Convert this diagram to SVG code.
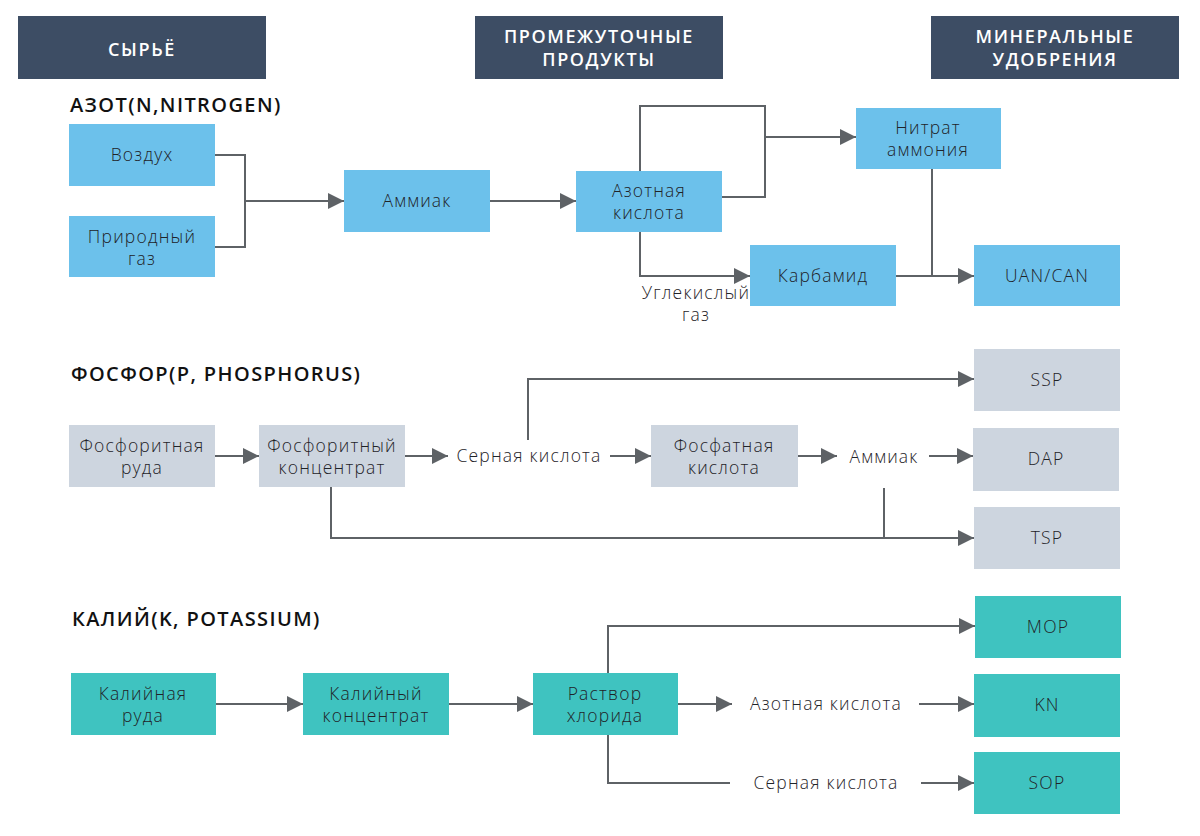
<svg xmlns="http://www.w3.org/2000/svg" width="1200" height="836" viewBox="0 0 1200 836">
<style>
  .hdr { fill: #3d4d64; }
  .hdrt { fill: #ffffff; font-family: "Open Sans", "Liberation Sans", sans-serif; font-size: 18px; font-weight: 600; letter-spacing: 1.6px; text-anchor: middle; }
  .sec { fill: #111111; font-family: "Open Sans", "Liberation Sans", sans-serif; font-size: 20px; font-weight: 600; letter-spacing: 1.4px; }
  .blue { fill: #6cc1eb; }
  .gray { fill: #cdd5df; }
  .teal { fill: #3fc3c0; }
  .t { fill: #1f2328; font-family: "Open Sans", "Liberation Sans", sans-serif; font-size: 17.5px; font-weight: 300; letter-spacing: 1.2px; text-anchor: middle; }
  .c { fill: none; stroke: #5e6266; stroke-width: 2; }
  .a { marker-end: url(#arr); }
</style>
<defs>
  <marker id="arr" markerUnits="userSpaceOnUse" markerWidth="16" markerHeight="16" refX="16" refY="8" orient="auto">
    <path d="M0,0 L16,8 L0,16 z" fill="#5e6266"/>
  </marker>
</defs>
<rect width="1200" height="836" fill="#ffffff"/>

<g id="header-raw"><rect class="hdr" x="18" y="16" width="248" height="63"/><text class="hdrt" x="142" y="56">СЫРЬЁ</text></g>
<g id="header-intermediate"><rect class="hdr" x="475" y="16" width="248" height="63"/><text class="hdrt" x="599" y="43">ПРОМЕЖУТОЧНЫЕ</text><text class="hdrt" x="599" y="66">ПРОДУКТЫ</text></g>
<g id="header-fertilizers"><rect class="hdr" x="931" y="16" width="248" height="63"/><text class="hdrt" x="1055" y="43">МИНЕРАЛЬНЫЕ</text><text class="hdrt" x="1055" y="66">УДОБРЕНИЯ</text></g>

<text class="sec" x="70" y="112">АЗОТ(N,NITROGEN)</text>
<text class="sec" x="71" y="381">ФОСФОР(P, PHOSPHORUS)</text>
<text class="sec" x="72" y="626">КАЛИЙ(K, POTASSIUM)</text>

<g id="connectors">
  <path class="c" d="M215,155 H245 V247 H215"/>
  <path class="c a" d="M245,201 H344"/>
  <path class="c a" d="M490,201 H576"/>
  <path class="c" d="M640,171 V106 H765 V197 H722"/>
  <path class="c a" d="M765,137 H856"/>
  <path class="c a" d="M640,232 V276 H750"/>
  <path class="c" d="M932,169 V276"/>
  <path class="c a" d="M896,276 H974"/>

  <path class="c a" d="M215,456 H259"/>
  <path class="c a" d="M405,456 H448"/>
  <path class="c a" d="M528,440 V379 H974"/>
  <path class="c a" d="M610,456 H651"/>
  <path class="c a" d="M798,456 H837"/>
  <path class="c a" d="M929,456 H973"/>
  <path class="c a" d="M331,487 V538 H974"/>
  <path class="c" d="M884,488 V538"/>

  <path class="c a" d="M216,704 H303"/>
  <path class="c a" d="M449,704 H533"/>
  <path class="c a" d="M608,673 V626 H975"/>
  <path class="c a" d="M678,704 H732"/>
  <path class="c a" d="M919,704 H974"/>
  <path class="c" d="M608,735 V783 H730"/>
  <path class="c a" d="M921,783 H974"/>
</g>

<g id="vozduh"><rect class="blue" x="69" y="124" width="146" height="62"/><text class="t" x="142" y="161">Воздух</text></g>
<g id="prirodny-gaz"><rect class="blue" x="69" y="216" width="146" height="61"/><text class="t" x="142" y="243">Природный</text><text class="t" x="142" y="265">газ</text></g>
<g id="ammiak-n"><rect class="blue" x="344" y="170" width="146" height="62"/><text class="t" x="417" y="207">Аммиак</text></g>
<g id="azotnaya-kislota-n"><rect class="blue" x="576" y="171" width="146" height="61"/><text class="t" x="649" y="197">Азотная</text><text class="t" x="649" y="219">кислота</text></g>
<g id="nitrat-ammoniya"><rect class="blue" x="856" y="108" width="145" height="61"/><text class="t" x="928" y="134">Нитрат</text><text class="t" x="928" y="156">аммония</text></g>
<g id="karbamid"><rect class="blue" x="750" y="245" width="146" height="61"/><text class="t" x="823" y="282">Карбамид</text></g>
<g id="uan-can"><rect class="blue" x="974" y="245" width="146" height="61"/><text class="t" x="1047" y="282">UAN/CAN</text></g>
<g id="uglekisly-gaz"><text class="t" x="696" y="299">Углекислый</text><text class="t" x="696" y="321">газ</text></g>

<g id="fosforitnaya-ruda"><rect class="gray" x="69" y="425" width="146" height="62"/><text class="t" x="142" y="452">Фосфоритная</text><text class="t" x="142" y="474">руда</text></g>
<g id="fosforitny-koncentrat"><rect class="gray" x="259" y="425" width="146" height="62"/><text class="t" x="332" y="452">Фосфоритный</text><text class="t" x="332" y="474">концентрат</text></g>
<g id="sernaya-kislota-p"><text class="t" x="529" y="462">Серная кислота</text></g>
<g id="fosfatnaya-kislota"><rect class="gray" x="651" y="425" width="147" height="62"/><text class="t" x="724" y="452">Фосфатная</text><text class="t" x="724" y="474">кислота</text></g>
<g id="ammiak-p"><text class="t" x="884" y="463">Аммиак</text></g>
<g id="ssp"><rect class="gray" x="974" y="349" width="146" height="62"/><text class="t" x="1047" y="386">SSP</text></g>
<g id="dap"><rect class="gray" x="973" y="428" width="146" height="63"/><text class="t" x="1046" y="465">DAP</text></g>
<g id="tsp"><rect class="gray" x="974" y="507" width="146" height="62"/><text class="t" x="1047" y="544">TSP</text></g>

<g id="kaliynaya-ruda"><rect class="teal" x="71" y="673" width="145" height="62"/><text class="t" x="143" y="700">Калийная</text><text class="t" x="143" y="722">руда</text></g>
<g id="kaliyny-koncentrat"><rect class="teal" x="303" y="673" width="146" height="62"/><text class="t" x="376" y="700">Калийный</text><text class="t" x="376" y="722">концентрат</text></g>
<g id="rastvor-khlorida"><rect class="teal" x="533" y="673" width="145" height="62"/><text class="t" x="605" y="700">Раствор</text><text class="t" x="605" y="722">хлорида</text></g>
<g id="azotnaya-kislota-k"><text class="t" x="826" y="710">Азотная кислота</text></g>
<g id="sernaya-kislota-k"><text class="t" x="826" y="789">Серная кислота</text></g>
<g id="mop"><rect class="teal" x="975" y="596" width="146" height="62"/><text class="t" x="1048" y="633">MOP</text></g>
<g id="kn"><rect class="teal" x="974" y="674" width="146" height="63"/><text class="t" x="1047" y="711">KN</text></g>
<g id="sop"><rect class="teal" x="974" y="752" width="146" height="62"/><text class="t" x="1047" y="789">SOP</text></g>
</svg>
